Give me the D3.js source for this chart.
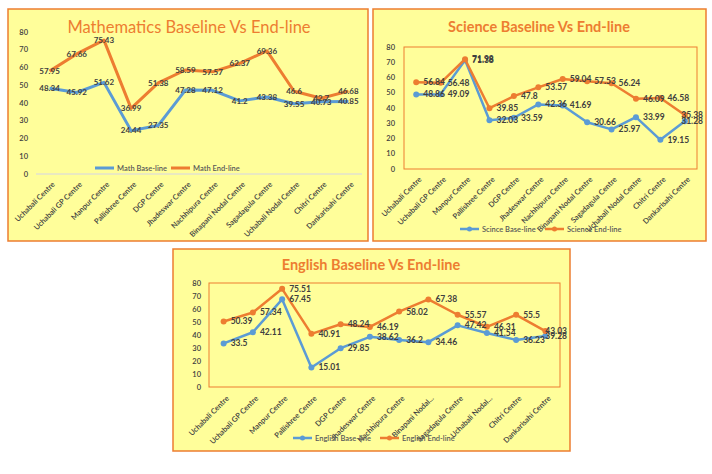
<!DOCTYPE html>
<html>
<head>
<meta charset="utf-8">
<script src="https://cdn.jsdelivr.net/npm/d3@7"></script>
<style>
  body { margin: 0; background: #fff; }
  svg { display: block; font-family: Lato, "Open Sans", sans-serif; }
</style>
</head>
<body>
<svg id="chart" width="712" height="474"></svg>
<script>
// DATA
// ============================================================ //
const centres = [
    "Uchabali Centre", "Uchabali GP Centre", "Manpur Centre", "Pallishree Centre",
    "DGP Centre", "Jhadeswar Centre", "Nachhipura Centre", "Binapani Nodal Centre",
    "Sagadagula Centre", "Uchabali Nodal Centre", "Chitri Centre", "Dankarisahi Centre"
];
// the english chart shortens two of the names
const englishCentres = [
    "Uchabali Centre", "Uchabali GP Centre", "Manpur Centre", "Pallishree Centre",
    "DGP Centre", "Jhadeswar Centre", "Nachhipura Centre", "Binapani Nodal...",
    "Sagadagula Centre", "Uchabali Nodal...", "Chitri Centre", "Dankarisahi Centre"
];

const mathBase = [48.34, 45.92, 51.62, 24.44, 27.35, 47.28, 47.12, 41.2, 43.38, 39.55, 40.73, 40.85];
const mathEnd = [57.95, 67.66, 75.43, 36.99, 51.38, 58.59, 57.57, 62.37, 69.36, 46.6, 42.7, 46.68];

const scienceBase = [48.86, 49.09, 71.38, 32.03, 33.59, 42.36, 41.69, 30.66, 25.97, 33.99, 19.15, 31.28];
const scienceEnd = [56.84, 56.48, 71.98, 39.85, 47.8, 53.57, 59.04, 57.53, 56.24, 46.09, 46.58, 35.38];

const englishBase = [33.5, 42.11, 67.45, 15.01, 29.85, 38.62, 36.2, 34.46, 47.42, 41.54, 36.23, 39.28];
const englishEnd = [50.39, 57.34, 75.51, 40.91, 48.24, 46.19, 58.02, 67.38, 55.57, 46.31, 55.5, 43.03];

const yTicks = [0, 10, 20, 30, 40, 50, 60, 70, 80];
// ============================================================ //

const BLUE = "#5B9BD5";
const ORANGE = "#ED7D31";
const PANEL_BG = "#FFFE9A";
const TEXT = "#404040";

const svg = d3.select("#chart");

const drawPanel = (o) => {
    const g = svg.append("g");
    const boxRight = o.box[0] + o.box[2];

    // panel box
    g.append("rect")
        .attr("x", o.box[0]).attr("y", o.box[1])
        .attr("width", o.box[2]).attr("height", o.box[3])
        .attr("fill", PANEL_BG)
        .attr("stroke", ORANGE)
        .attr("stroke-width", 1.5);

    const x = d3.scalePoint()
        .domain(o.categories)
        .range([o.plot.left, o.plot.right])
        .padding(0.5);
    const y = d3.scaleLinear()
        .domain([0, 80])
        .range([o.plot.bottom, o.plot.top]);

    if (o.plotBorder) {
        g.append("rect")
            .attr("x", o.plot.left).attr("y", o.plot.top)
            .attr("width", o.plot.right - o.plot.left)
            .attr("height", o.plot.bottom - o.plot.top)
            .attr("fill", "none")
            .attr("stroke", ORANGE)
            .attr("stroke-width", 1);
    } else {
        g.append("line")
            .attr("x1", o.plot.left).attr("x2", o.plot.right)
            .attr("y1", y(0)).attr("y2", y(0))
            .attr("stroke", "#D4D4E8")
            .attr("stroke-width", 1);
    }

    // title
    g.append("text")
        .attr("x", o.titleX).attr("y", o.titleY)
        .attr("text-anchor", "middle")
        .attr("fill", ORANGE)
        .attr("font-size", o.titleSize)
        .attr("font-weight", o.titleWeight)
        .text(o.title);

    // y axis labels
    g.append("g")
        .selectAll("text")
        .data(yTicks)
        .join("text")
        .attr("x", o.yLabelX)
        .attr("y", d => y(d))
        .attr("dy", "0.35em")
        .attr("text-anchor", "end")
        .attr("font-size", 7.5)
        .attr("font-weight", 600)
        .attr("fill", TEXT)
        .text(d => d);

    // x axis labels
    g.append("g")
        .selectAll("text")
        .data(o.categories)
        .join("text")
        .attr("transform", d => `translate(${x(d) + 4},${y(0) + o.xLabelOffset}) rotate(-45)`)
        .attr("text-anchor", "end")
        .attr("dy", "0.35em")
        .attr("font-size", 7.5)
        .attr("font-weight", 600)
        .attr("fill", TEXT)
        .text(d => d);

    const line = d3.line()
        .x((d, i) => x(o.categories[i]))
        .y(d => y(d));

    const series = [
        { values: o.base, color: BLUE, name: o.baseName },
        { values: o.end, color: ORANGE, name: o.endName }
    ];

    series.forEach(s => {
        g.append("path")
            .datum(s.values)
            .attr("d", line)
            .attr("fill", "none")
            .attr("stroke", s.color)
            .attr("stroke-width", o.lineWidth)
            .attr("stroke-linejoin", "round");
        if (o.markers) {
            g.append("g")
                .selectAll("circle")
                .data(s.values)
                .join("circle")
                .attr("cx", (d, i) => x(o.categories[i]))
                .attr("cy", d => y(d))
                .attr("r", 3)
                .attr("fill", s.color);
        }
    });

    // data labels drawn after both lines
    series.forEach(s => {
        g.append("g")
            .selectAll("text")
            .data(s.values)
            .join("text")
            .attr("x", (d, i) => x(o.categories[i]) + (o.labelPos === "right" ? 7 : 0))
            .attr("y", d => y(d))
            .attr("dy", "0.35em")
            .attr("text-anchor", o.labelPos === "right" ? "start" : "middle")
            .attr("font-size", o.labelSize)
            .attr("font-weight", 700)
            .attr("fill", TEXT)
            .text(d => d)
            .each(function () {
                // keep labels inside the panel, like excel does
                if (o.labelPos !== "right") return;
                const w = this.getComputedTextLength();
                const x0 = +this.getAttribute("x");
                if (x0 + w > boxRight - 3) this.setAttribute("x", boxRight - 3 - w);
            });
    });

    // legend
    series.forEach((s, i) => {
        const lx = o.legendX[i];
        g.append("line")
            .attr("x1", lx).attr("x2", lx + 19)
            .attr("y1", o.legendY).attr("y2", o.legendY)
            .attr("stroke", s.color)
            .attr("stroke-width", o.lineWidth);
        if (o.markers) {
            g.append("circle")
                .attr("cx", lx + 9.5).attr("cy", o.legendY)
                .attr("r", 2.5)
                .attr("fill", s.color);
        }
        g.append("text")
            .attr("x", lx + 22).attr("y", o.legendY)
            .attr("dy", "0.35em")
            .attr("font-size", 7.5)
            .attr("font-weight", 600)
            .attr("fill", "#595959")
            .text(s.name);
    });
};

drawPanel({
    box: [8, 9, 360, 232],
    plot: { left: 36, right: 362, top: 32, bottom: 174 },
    categories: centres,
    base: mathBase, end: mathEnd,
    baseName: "Math Base-line", endName: "Math End-line",
    title: "Mathematics Baseline Vs End-line",
    titleX: 189, titleY: 33, titleSize: 16.5, titleWeight: 400,
    yLabelX: 28, xLabelOffset: 9,
    lineWidth: 3, markers: false,
    labelPos: "center", labelSize: 8,
    legendX: [95, 171], legendY: 168,
    plotBorder: false
});

drawPanel({
    box: [373, 9, 333, 232],
    plot: { left: 404, right: 697, top: 47, bottom: 169 },
    categories: centres,
    base: scienceBase, end: scienceEnd,
    baseName: "Scince Base-line", endName: "Science End-line",
    title: "Science Baseline Vs End-line",
    titleX: 539, titleY: 32, titleSize: 14.5, titleWeight: 700,
    yLabelX: 395, xLabelOffset: 9,
    lineWidth: 2.5, markers: true,
    labelPos: "right", labelSize: 8.5,
    legendX: [460, 545], legendY: 229,
    plotBorder: true
});

drawPanel({
    box: [173, 249, 397, 202],
    plot: { left: 209, right: 560, top: 283, bottom: 387 },
    categories: englishCentres,
    base: englishBase, end: englishEnd,
    baseName: "English Base-line", endName: "English End-line",
    title: "English Baseline Vs End-line",
    titleX: 371, titleY: 270, titleSize: 14.5, titleWeight: 700,
    yLabelX: 201, xLabelOffset: 10,
    lineWidth: 2.5, markers: true,
    labelPos: "right", labelSize: 8.5,
    legendX: [293, 380], legendY: 438,
    plotBorder: true
});
</script>
</body>
</html>
